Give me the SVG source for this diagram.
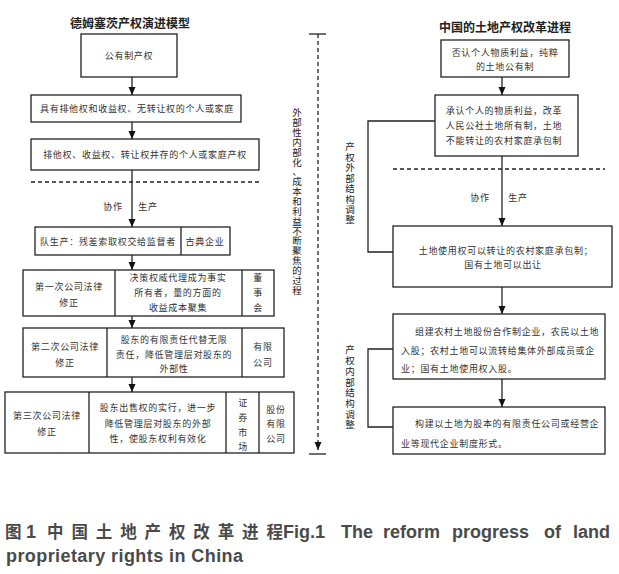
<svg xmlns="http://www.w3.org/2000/svg" width="619" height="574" viewBox="0 0 619 574">
<style>
.bg{fill:#fff}
.box{fill:#fff;stroke:#222;stroke-width:1.3}
.ln{stroke:#222;stroke-width:1.3;fill:none}
.dash{stroke:#222;stroke-width:1.3;stroke-dasharray:4 3;fill:none}
.t{font-family:"Noto Sans CJK SC","Noto Sans",sans-serif;font-size:9px;letter-spacing:0.7px;fill:#333;text-anchor:middle}
.s{text-anchor:start}
.title{font-size:12px;font-weight:bold;letter-spacing:0;fill:#222}
.v{font-size:9.5px;letter-spacing:0;fill:#222}
.cap{font-family:"Liberation Sans","Noto Sans CJK SC",sans-serif;font-weight:bold;font-size:18px;fill:#4a4a4a}
.capc{font-family:"Noto Sans CJK SC",sans-serif;font-weight:bold;font-size:16.5px;fill:#4a4a4a}
</style>
<defs>
<marker id="ah" markerUnits="userSpaceOnUse" markerWidth="9" markerHeight="8" refX="8" refY="3.5" orient="auto">
<path d="M0,0 L8,3.5 L0,7 z" fill="#111"/>
</marker>
</defs>
<rect class="bg" x="0" y="0" width="619" height="574"/>

<g id="connectors">
<line class="ln" x1="132" y1="77" x2="132" y2="95" marker-end="url(#ah)"/>
<line class="ln" x1="132" y1="122" x2="132" y2="139" marker-end="url(#ah)"/>
<line class="ln" x1="132" y1="170" x2="132" y2="227" marker-end="url(#ah)"/>
<line class="ln" x1="132" y1="255" x2="132" y2="270" marker-end="url(#ah)"/>
<line class="ln" x1="132" y1="316" x2="132" y2="328" marker-end="url(#ah)"/>
<line class="ln" x1="132" y1="377" x2="132" y2="392" marker-end="url(#ah)"/>
<line class="dash" x1="31" y1="182" x2="259" y2="182"/>
<line class="ln" x1="502" y1="77" x2="502" y2="95" marker-end="url(#ah)"/>
<line class="ln" x1="502" y1="156" x2="502" y2="226" marker-end="url(#ah)"/>
<line class="ln" x1="502" y1="287" x2="502" y2="314" marker-end="url(#ah)"/>
<line class="ln" x1="502" y1="379" x2="502" y2="407" marker-end="url(#ah)"/>
<line class="dash" x1="393" y1="169" x2="605" y2="169"/>
<polyline class="ln" points="435,121 368,121 368,252 393,252"/>
<polyline class="ln" points="393,349 368,349 368,427 393,427"/>
<line class="dash" x1="318" y1="34" x2="318" y2="450" marker-end="url(#ah)"/>
<line class="ln" x1="309" y1="34" x2="326" y2="34"/>
<line class="ln" x1="309" y1="454" x2="326" y2="454"/>
</g>

<g id="left-title"><text class="t title" x="130" y="27.5">德姆塞茨产权演进模型</text></g>
<g id="n1"><rect class="box" x="81" y="34" width="96" height="43"/><text class="t" x="129" y="59">公有制产权</text></g>
<g id="n2"><rect class="box" x="31" y="95" width="210" height="27"/><text class="t" x="137" y="112">具有排他权和收益权、无转让权的个人或家庭</text></g>
<g id="n3"><rect class="box" x="31" y="139" width="228" height="31"/><text class="t" x="145" y="158">排他权、收益权、转让权并存的个人或家庭产权</text></g>
<g id="lbl-left"><text class="t" x="113" y="210">协作</text><text class="t" x="148" y="210">生产</text></g>
<g id="n4"><rect class="box" x="35" y="227" width="195" height="28"/><line class="ln" x1="181" y1="227" x2="181" y2="255"/>
<text class="t" x="108" y="245">队生产：残差索取权交给监督者</text><text class="t" x="205" y="245">古典企业</text></g>
<g id="n5"><rect class="box" x="23" y="270" width="251" height="46"/><line class="ln" x1="115" y1="270" x2="115" y2="316"/><line class="ln" x1="242" y1="270" x2="242" y2="316"/>
<text class="t" x="69" y="290">第一次公司法律</text><text class="t" x="69" y="306">修正</text>
<text class="t" x="178" y="281">决策权威代理成为事实</text><text class="t" x="178" y="296">所有者，量的方面的</text><text class="t" x="178" y="311">收益成本聚集</text>
<text class="t" x="258" y="281">董</text><text class="t" x="258" y="296">事</text><text class="t" x="258" y="311">会</text></g>
<g id="n6"><rect class="box" x="23" y="328" width="261" height="49"/><line class="ln" x1="107" y1="328" x2="107" y2="377"/><line class="ln" x1="242" y1="328" x2="242" y2="377"/>
<text class="t" x="65" y="350">第二次公司法律</text><text class="t" x="65" y="366">修正</text>
<text class="t" x="174" y="343">股东的有限责任代替无限</text><text class="t" x="174" y="358">责任，降低管理层对股东的</text><text class="t" x="174" y="372">外部性</text>
<text class="t" x="263" y="350">有限</text><text class="t" x="263" y="366">公司</text></g>
<g id="n7"><rect class="box" x="5" y="392" width="289" height="61"/><line class="ln" x1="89" y1="392" x2="89" y2="453"/><line class="ln" x1="226" y1="392" x2="226" y2="453"/><line class="ln" x1="259" y1="392" x2="259" y2="453"/>
<text class="t" x="47" y="419">第三次公司法律</text><text class="t" x="47" y="435">修正</text>
<text class="t" x="158" y="411">股东出售权的实行，进一步</text><text class="t" x="158" y="427">降低管理层对股东的外部</text><text class="t" x="158" y="442">性，使股东权利有效化</text>
<text class="t" x="243" y="406">证</text><text class="t" x="243" y="421">券</text><text class="t" x="243" y="436">市</text><text class="t" x="243" y="450">场</text>
<text class="t" x="276" y="413">股份</text><text class="t" x="276" y="427">有限</text><text class="t" x="276" y="442">公司</text></g>

<g id="v-main"><text class="t v" x="297 297 297 297 297 297 297 297 297 297 297 297 297 297 297 297 297 297 297 297" y="116.3 126.1 136 145.8 155.7 165.5 175.4 185.2 195.1 204.9 214.8 224.6 234.5 244.3 254.2 264 273.9 283.7 293.6 303.4">外部性内部化、成本和利益不断聚焦的过程</text></g>
<g id="v-ext"><text class="t v" x="350 350 350 350 350 350 350 350" y="150.4 160.8 171.2 181.6 192 202.5 212.9 223.3">产权外部结构调整</text></g>
<g id="v-int"><text class="t v" x="350 350 350 350 350 350 350 350" y="353.4 364.1 374.8 385.5 396.2 406.9 417.6 428.3">产权内部结构调整</text></g>

<g id="right-title"><text class="t title" x="505" y="31.5">中国的土地产权改革进程</text></g>
<g id="r1"><rect class="box" x="441" y="40" width="128" height="37"/><text class="t" x="505" y="55.5">否认个人物质利益，纯粹</text><text class="t" x="505" y="69.5">的土地公有制</text></g>
<g id="r2"><rect class="box" x="435" y="95" width="143" height="61"/><text class="t" x="504" y="113.5">承认个人的物质利益，改革</text><text class="t" x="504" y="128.5">人民公社土地所有制，土地</text><text class="t" x="504" y="143.5">不能转让的农村家庭承包制</text></g>
<g id="lbl-right"><text class="t" x="480" y="200.5">协作</text><text class="t" x="518" y="200.5">生产</text></g>
<g id="r3"><rect class="box" x="393" y="226" width="219" height="61"/><text class="t" x="506" y="254">土地使用权可以转让的农村家庭承包制；</text><text class="t" x="503" y="267.5">国有土地可以出让</text></g>
<g id="r4"><rect class="box" x="393" y="314" width="212" height="65"/><text class="t s" x="415" y="335">组建农村土地股份合作制企业，农民以土地</text><text class="t s" x="401" y="354">入股；农村土地可以流转给集体外部成员或企</text><text class="t s" x="401" y="371.5">业；国有土地使用权入股。</text></g>
<g id="r5"><rect class="box" x="393" y="407" width="212" height="47"/><text class="t s" x="415" y="426.5">构建以土地为股本的有限责任公司或经营企</text><text class="t s" x="401" y="446.5">业等现代企业制度形式。</text></g>

<g id="caption">
<text class="capc" x="5" y="538">图</text>
<text class="cap" x="26" y="538">1</text>
<text class="capc" x="47" y="538" textLength="236" lengthAdjust="spacing">中国土地产权改革进程</text>
<text class="cap" x="283" y="538">Fig.1</text>
<text class="cap" x="341" y="538">The</text>
<text class="cap" x="383" y="538">reform</text>
<text class="cap" x="452" y="538">progress</text>
<text class="cap" x="544" y="538">of</text>
<text class="cap" x="573" y="538">land</text>
<text class="cap" x="6" y="562" textLength="237" lengthAdjust="spacing">proprietary rights in China</text>
</g>
</svg>
